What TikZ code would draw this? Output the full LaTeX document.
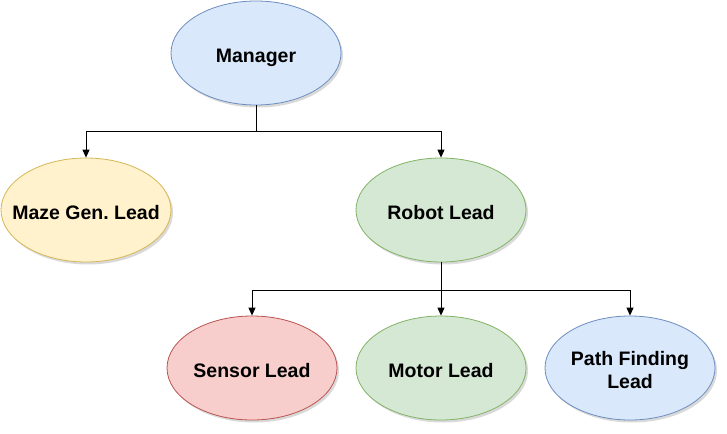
\documentclass[tikz,border=0pt]{standalone}
\usepackage{fontspec}
\setmainfont{Liberation Sans}
\usetikzlibrary{shapes.geometric,arrows.meta,shadows}
\definecolor{bluefill}{HTML}{DAE8FC}\definecolor{bluedraw}{HTML}{6C8EBF}
\definecolor{yelfill}{HTML}{FFF2CC}\definecolor{yeldraw}{HTML}{D6B656}
\definecolor{grnfill}{HTML}{D5E8D4}\definecolor{grndraw}{HTML}{82B366}
\definecolor{redfill}{HTML}{F8CECC}\definecolor{reddraw}{HTML}{B85450}
\newcommand\ovtxt[1]{\raisebox{-9.5pt}[0pt][0pt]{\makebox[0pt][c]{\begin{tabular}{@{}c@{}}#1\end{tabular}}}}
\tikzset{
  oval/.style={ellipse, minimum width=170pt, minimum height=104pt, inner sep=0pt,
    line width=0.8pt,
    font=\fontsize{19.5}{23.5}\selectfont\bfseries\frenchspacing,
    drop shadow={shadow xshift=2pt, shadow yshift=-2.5pt, opacity=0.15, fill=black}},
  conn/.style={draw=black, line width=0.9pt, -{Triangle[length=8pt,width=7pt]}}
}
\begin{document}
\begin{tikzpicture}[x=1pt,y=-1pt]
\useasboundingbox (0,0) rectangle (727,433);
\node[oval, fill=bluefill, draw=bluedraw] (mgr) at (256,53) {\ovtxt{Manager}};
\node[oval, fill=yelfill, draw=yeldraw] (maze) at (86,210) {\ovtxt{Maze Gen. Lead}};
\node[oval, fill=grnfill, draw=grndraw] (robot) at (441,210) {\ovtxt{Robot Lead}};
\node[oval, fill=redfill, draw=reddraw] (sensor) at (252,368) {\ovtxt{Sensor Lead}};
\node[oval, fill=grnfill, draw=grndraw] (motor) at (441,368) {\ovtxt{Motor Lead}};
\node[oval, fill=bluefill, draw=bluedraw] (path) at (630,368) {\ovtxt{Path Finding\\Lead}};
\coordinate (j1) at (256,131);
\coordinate (j2) at (441,290);
\draw[conn] (mgr.south) -- (j1) -| (maze.north);
\draw[conn] (j1) -| (robot.north);
\draw[conn] (robot.south) -- (j2) -| (sensor.north);
\draw[conn] (j2) -- (motor.north);
\draw[conn] (j2) -| (path.north);
\end{tikzpicture}
\end{document}
